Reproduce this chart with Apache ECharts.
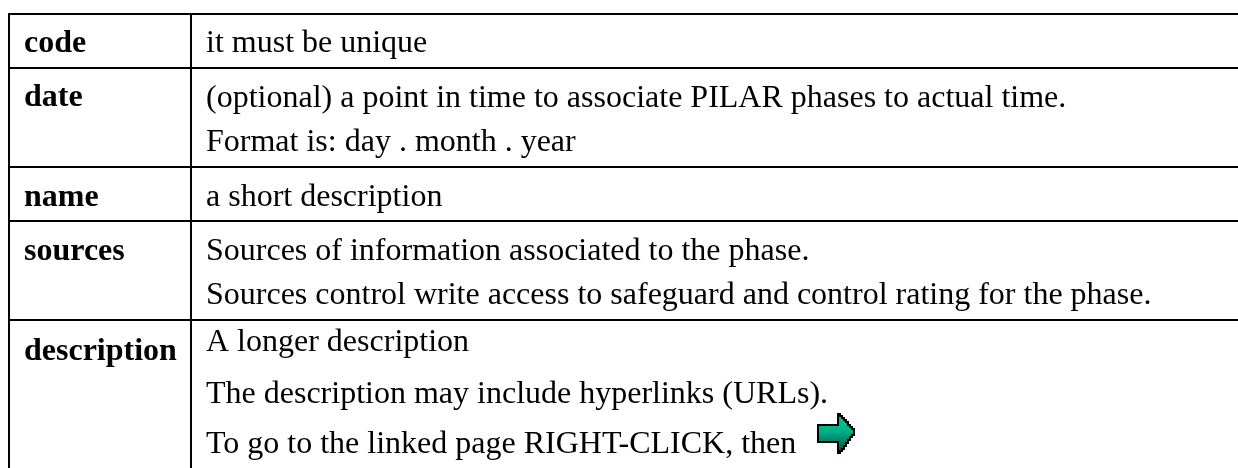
<!DOCTYPE html>
<html><head><meta charset="utf-8">
<style>html,body{margin:0;padding:0;background:#fff}#c{width:1238px;height:468px}</style>
<script src="https://cdn.jsdelivr.net/npm/echarts@6/dist/echarts.min.js"></script>
</head><body><div id="c"></div>
<script>
const fieldNames = ['code','date','name','sources','description'];
const fieldBaselines = [52,106,206,260,360];
const detailLines = ['it must be unique',
 '(optional) a point in time to associate PILAR phases to actual time.',
 'Format is: day . month . year',
 'a short description',
 'Sources of information associated to the phase.',
 'Sources control write access to safeguard and control rating for the phase.',
 'A longer description',
 'The description may include hyperlinks (URLs).',
 'To go to the linked page RIGHT-CLICK, then'];
const detailBaselines = [52,107,151,206,260,304,351,403,453];
const rowRules = [14,68,167,221,320];
const columnRules = [9,191];
const tableRight = 1238, tableBottom = 468;
const arrowOutline = [[818,425],[838,425],[838,414],[840,414],[840,416],[842,416],[842,418],[844,418],[844,420],[846,420],[846,422],[848,422],[848,425],[850,425],[850,427],[852,427],[852,429],[854,429],[854,435],[852,435],[852,437],[850,437],[850,440],[848,440],[848,443],[846,443],[846,446],[844,446],[844,449],[842,449],[842,451],[840,451],[840,453],[838,453],[838,442],[818,442]];
const FONT = '"Liberation Serif","Times New Roman",serif';
const FS = 32, BASE_OFFSET = 7.5;
const els = [];
rowRules.forEach(y=>els.push({type:'line',shape:{x1:8,y1:y,x2:tableRight,y2:y},style:{stroke:'#000',lineWidth:2}}));
columnRules.forEach(x=>els.push({type:'line',shape:{x1:x,y1:13,x2:x,y2:tableBottom},style:{stroke:'#000',lineWidth:2}}));
function txt(t,x,base,font){
  els.push({type:'text',x:x,y:base+BASE_OFFSET,style:{text:t,font:font,fill:'#000',align:'left',verticalAlign:'bottom',lineHeight:FS}});
}
fieldNames.forEach((t,i)=>txt(t,24,fieldBaselines[i],'bold '+FS+'px '+FONT));
detailLines.forEach((t,i)=>txt(t,206,detailBaselines[i],FS+'px '+FONT));
els.push({type:'polygon',shape:{points:arrowOutline},
 style:{stroke:'#000',lineWidth:2,lineJoin:'miter',fill:new echarts.graphic.LinearGradient(0,0,0,1,[{offset:0,color:'#00c898'},{offset:.45,color:'#00b088'},{offset:.7,color:'#008060'},{offset:1,color:'#004c38'}])}});
const chart = echarts.init(document.getElementById('c'),null,{renderer:'canvas'});
chart.setOption({animation:false,backgroundColor:'#fff',graphic:{elements:els}});
</script></body></html>
